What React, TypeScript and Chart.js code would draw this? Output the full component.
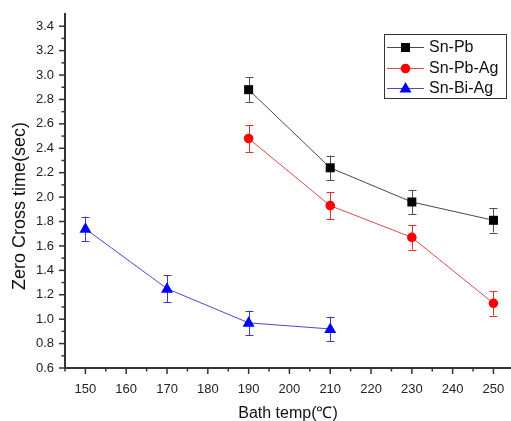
import React, { useEffect, useRef } from 'react';
import { Chart, registerables } from 'chart.js';
Chart.register(...registerables);

const xTickValues = [150, 160, 170, 180, 190, 200, 210, 220, 230, 240, 250];
const yTickValues = [0.6, 0.8, 1.0, 1.2, 1.4, 1.6, 1.8, 2.0, 2.2, 2.4, 2.6, 2.8, 3.0, 3.2, 3.4];

const snPbX = [190, 210, 230, 250];
const snPbY = [2.88, 2.24, 1.96, 1.81];
const snPbErr = [0.1, 0.1, 0.1, 0.1];

const snPbAgX = [190, 210, 230, 250];
const snPbAgY = [2.48, 1.93, 1.67, 1.13];
const snPbAgErr = [0.11, 0.11, 0.1, 0.1];

const snBiAgX = [150, 170, 190, 210];
const snBiAgY = [1.74, 1.25, 0.97, 0.92];
const snBiAgErr = [0.1, 0.11, 0.1, 0.1];

const seriesNames = ['Sn-Pb', 'Sn-Pb-Ag', 'Sn-Bi-Ag'];
const xTitle = 'Bath temp(\u2103)';
const yTitle = 'Zero Cross time(sec)';

const FONT = '"Liberation Sans", Arial, sans-serif';

type Style = { line: string; marker: string; err: string; shape: string };
const styles: Style[] = [
  { line: '#484848', marker: '#000000', err: '#505050', shape: 'rect' },
  { line: '#e04848', marker: '#ff0000', err: '#e03030', shape: 'circle' },
  { line: '#4848d0', marker: '#0000ff', err: '#3a3ac8', shape: 'triangle' },
];

function drawMarker(ctx: CanvasRenderingContext2D, shape: string, x: number, y: number, color: string) {
  ctx.save();
  ctx.fillStyle = color;
  ctx.beginPath();
  if (shape === 'rect') {
    ctx.rect(x - 4.5, y - 4.5, 9, 9);
  } else if (shape === 'circle') {
    ctx.arc(x, y, 4.8, 0, Math.PI * 2);
  } else {
    ctx.moveTo(x, y - 6.5);
    ctx.lineTo(x + 6, y + 4);
    ctx.lineTo(x - 6, y + 4);
    ctx.closePath();
  }
  ctx.fill();
  ctx.restore();
}

export default function App() {
  const ref = useRef<HTMLCanvasElement>(null);
  useEffect(() => {
    if (!ref.current) return;
    const errs = [snPbErr, snPbAgErr, snBiAgErr];

    const custom = {
      id: 'custom',
      beforeDatasetsDraw(chart: any) {
        const ctx = chart.ctx as CanvasRenderingContext2D;
        const xs = chart.scales.x;
        const ys = chart.scales.y;
        chart.data.datasets.forEach((ds: any, i: number) => {
          ctx.save();
          ctx.strokeStyle = styles[i].err;
          ctx.lineWidth = 1;
          ds.data.forEach((p: any, j: number) => {
            const px = Math.round(xs.getPixelForValue(p.x)) + 0.5;
            const top = ys.getPixelForValue(p.y + errs[i][j]);
            const bot = ys.getPixelForValue(p.y - errs[i][j]);
            ctx.beginPath();
            ctx.moveTo(px, top);
            ctx.lineTo(px, bot);
            ctx.moveTo(px - 4, Math.round(top) + 0.5);
            ctx.lineTo(px + 4, Math.round(top) + 0.5);
            ctx.moveTo(px - 4, Math.round(bot) + 0.5);
            ctx.lineTo(px + 4, Math.round(bot) + 0.5);
            ctx.stroke();
          });
          ctx.restore();
        });
      },
      afterDatasetsDraw(chart: any) {
        const ctx = chart.ctx as CanvasRenderingContext2D;
        const xs = chart.scales.x;
        const ys = chart.scales.y;
        chart.data.datasets.forEach((ds: any, i: number) => {
          ds.data.forEach((p: any) => {
            drawMarker(ctx, styles[i].shape, xs.getPixelForValue(p.x), ys.getPixelForValue(p.y), styles[i].marker);
          });
        });
      },
      afterDraw(chart: any) {
        const ctx = chart.ctx as CanvasRenderingContext2D;
        const xs = chart.scales.x;
        const ys = chart.scales.y;
        const area = chart.chartArea;
        ctx.save();
        ctx.strokeStyle = '#333';
        ctx.lineWidth = 2;
        ctx.beginPath();
        ctx.moveTo(area.left, area.top - 1);
        ctx.lineTo(area.left, area.bottom);
        ctx.lineTo(area.right, area.bottom);
        ctx.stroke();
        ctx.lineWidth = 1.5;
        for (let k = 6; k <= 34; k++) {
          const v = k / 10;
          const py = ys.getPixelForValue(v);
          const major = k % 2 === 0;
          ctx.beginPath();
          ctx.moveTo(area.left, py);
          ctx.lineTo(area.left - (major ? 6 : 3.5), py);
          ctx.stroke();
        }
        for (let v = 145; v <= 255; v += 5) {
          const px = xs.getPixelForValue(v);
          if (px > area.right + 1) continue;
          const major = v % 10 === 0;
          ctx.beginPath();
          ctx.moveTo(px, area.bottom);
          ctx.lineTo(px, area.bottom + (major ? 6 : 3.5));
          ctx.stroke();
        }
        ctx.fillStyle = '#111';
        ctx.font = `16px ${FONT}`;
        ctx.textAlign = 'center';
        ctx.textBaseline = 'alphabetic';
        ctx.fillText(xTitle, 288, 418);
        ctx.translate(25, 206);
        ctx.rotate(-Math.PI / 2);
        ctx.font = `18px ${FONT}`;
        ctx.fillText(yTitle, 0, 0);
        ctx.restore();

        ctx.save();
        const lx = 384, ly = 34, lw = 122, lh = 64;
        ctx.strokeStyle = '#333';
        ctx.lineWidth = 1;
        ctx.strokeRect(lx + 0.5, ly + 0.5, lw, lh);
        const rows = [47, 68, 88];
        ctx.font = `16px ${FONT}`;
        ctx.textAlign = 'left';
        ctx.textBaseline = 'middle';
        rows.forEach((ry, i) => {
          ctx.strokeStyle = styles[i].line;
          ctx.beginPath();
          ctx.moveTo(387, ry + 0.5);
          ctx.lineTo(424, ry + 0.5);
          ctx.stroke();
          drawMarker(ctx, styles[i].shape, 405.5, ry + 0.5, styles[i].marker);
          ctx.fillStyle = '#111';
          ctx.fillText(seriesNames[i], 429, ry + 1);
        });
        ctx.restore();
      },
    };

    const chart = new Chart(ref.current, {
      type: 'line',
      data: {
        datasets: [
          {
            label: seriesNames[0],
            data: snPbX.map((x, i) => ({ x, y: snPbY[i] })),
            borderColor: styles[0].line,
            borderWidth: 1,
            pointRadius: 0,
          },
          {
            label: seriesNames[1],
            data: snPbAgX.map((x, i) => ({ x, y: snPbAgY[i] })),
            borderColor: styles[1].line,
            borderWidth: 1,
            pointRadius: 0,
          },
          {
            label: seriesNames[2],
            data: snBiAgX.map((x, i) => ({ x, y: snBiAgY[i] })),
            borderColor: styles[2].line,
            borderWidth: 1,
            pointRadius: 0,
          },
        ],
      },
      options: {
        responsive: false,
        animation: false,
        devicePixelRatio: 1,
        layout: { padding: { top: 14, right: 0, left: 0, bottom: 0 } },
        plugins: { legend: { display: false }, tooltip: { enabled: false } },
        scales: {
          x: {
            type: 'linear',
            min: 145,
            max: 254.3,
            grid: { display: false },
            border: { display: false },
            afterBuildTicks: (s: any) => {
              s.ticks = xTickValues.map((v) => ({ value: v }));
            },
            afterFit: (s: any) => {
              s.height = 53;
            },
            ticks: {
              autoSkip: false,
              maxRotation: 0,
              padding: 6,
              color: '#222',
              font: { family: FONT, size: 13 },
              callback: (v: any) => String(v),
            },
          },
          y: {
            type: 'linear',
            min: 0.6,
            max: 3.5,
            grid: { display: false },
            border: { display: false },
            afterBuildTicks: (s: any) => {
              s.ticks = yTickValues.map((v) => ({ value: v }));
            },
            afterFit: (s: any) => {
              s.width = 65;
            },
            ticks: {
              autoSkip: false,
              padding: 3,
              color: '#222',
              font: { family: FONT, size: 13 },
              callback: (v: any) => Number(v).toFixed(1),
            },
          },
        },
      },
      plugins: [custom],
    } as any);
    return () => chart.destroy();
  }, []);
  return (
    <div style={{ position: 'absolute', left: 0, top: 0, width: 511, height: 421, background: '#fff' }}>
      <canvas ref={ref} width={511} height={421} style={{ width: 511, height: 421 }} />
    </div>
  );
}
